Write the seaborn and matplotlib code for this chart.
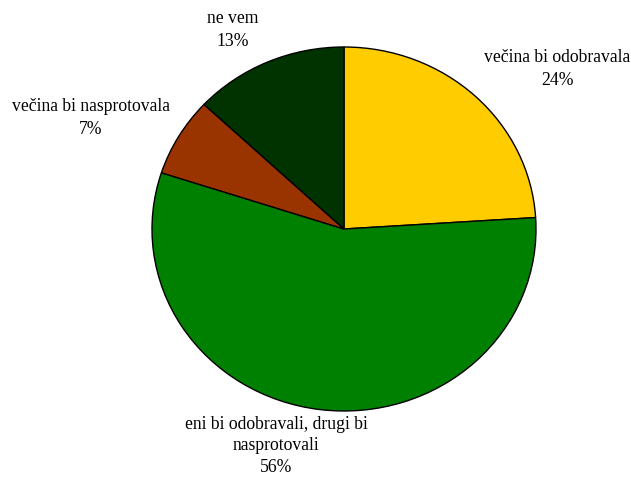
import matplotlib
matplotlib.use("Agg")
import matplotlib.pyplot as plt
import seaborn as sns

# Data
categories = ["večina bi odobravala", "eni bi odobravali, drugi bi\nnasprotovali",
              "večina bi nasprotovala", "ne vem"]
values = [24, 56, 7, 13]
pct_labels = ["24%", "56%", "7%", "13%"]
colors = ["#FFCC00", "#008000", "#993300", "#003300"]

sns.set_theme(style="white")
plt.rcParams["font.family"] = ["Liberation Serif", "DejaVu Serif"]

W, H = 631, 479
fig = plt.figure(figsize=(W / 100, H / 100), dpi=100)
fig.patch.set_facecolor("white")

# pie area in pixels: center (344, 229), rx 192, ry 182
cx, cy, rx, ry = 344, 229, 192, 182
ax = fig.add_axes([(cx - rx) / W, (H - (cy + ry)) / H, 2 * rx / W, 2 * ry / H])
ax.pie(values, colors=colors, startangle=90, counterclock=False,
       wedgeprops=dict(edgecolor="black", linewidth=1.0))
ax.set_aspect("auto")
ax.set_xlim(-1, 1)
ax.set_ylim(-1, 1)
ax.axis("off")

# label positions (pixel centers)
label_pos = [(557, 69), (276, 446), (91, 118), (233, 30)]
spacing = [1.4, 1.33, 1.4, 1.45]
for cat, pct, (px, py), ls in zip(categories, pct_labels, label_pos, spacing):
    fig.text(px / W, 1 - py / H, f"{cat}\n{pct}", ha="center", va="center",
             multialignment="center", fontsize=12.7, color="black", linespacing=ls)

fig.savefig("out.png", dpi=100, facecolor="white")
